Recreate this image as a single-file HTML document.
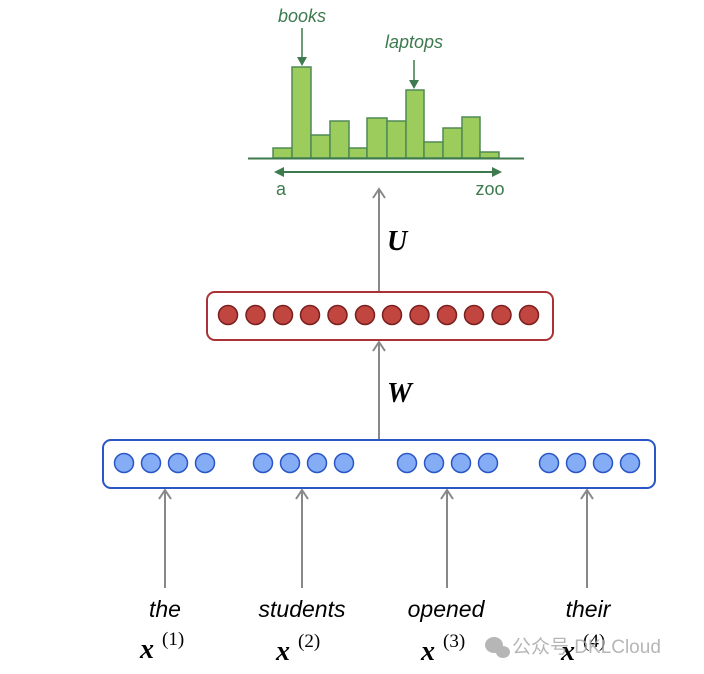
<!DOCTYPE html>
<html><head><meta charset="utf-8"><style>body{margin:0;background:#fff}svg{display:block}</style></head>
<body>
<svg width="704" height="674" viewBox="0 0 704 674" xmlns="http://www.w3.org/2000/svg">
<!-- histogram -->
<g fill="#9ccc5c" stroke="#4e8a55" stroke-width="1.5">
<rect x="273" y="148" width="19" height="10"/>
<rect x="292" y="67" width="19" height="91"/>
<rect x="311" y="135" width="19" height="23"/>
<rect x="330" y="121" width="19" height="37"/>
<rect x="349" y="148" width="18" height="10"/>
<rect x="367" y="118" width="20" height="40"/>
<rect x="387" y="121" width="19" height="37"/>
<rect x="406" y="90" width="18" height="68"/>
<rect x="424" y="142" width="19" height="16"/>
<rect x="443" y="128" width="19" height="30"/>
<rect x="462" y="117" width="18" height="41"/>
<rect x="480" y="152" width="19" height="6"/>
</g>
<line x1="248" y1="158.5" x2="524" y2="158.5" stroke="#3d7a4e" stroke-width="2"/>
<line x1="280" y1="172" x2="496" y2="172" stroke="#3d7a4e" stroke-width="2"/>
<path d="M274,172 L284,167 L284,177 Z M502,172 L492,167 L492,177 Z" fill="#3d7a4e"/>
<line x1="302" y1="28" x2="302" y2="58" stroke="#3d7a4e" stroke-width="1.5"/>
<path d="M297,57 L307,57 L302,66 Z" fill="#3d7a4e"/>
<line x1="414" y1="60" x2="414" y2="81" stroke="#3d7a4e" stroke-width="1.5"/>
<path d="M409,80 L419,80 L414,89 Z" fill="#3d7a4e"/>
<g font-family="Liberation Sans, sans-serif" fill="#3d7a4e" font-size="18">
<text x="302" y="22" text-anchor="middle" font-style="italic">books</text>
<text x="414" y="48" text-anchor="middle" font-style="italic">laptops</text>
<text x="281" y="195" text-anchor="middle">a</text>
<text x="490" y="195" text-anchor="middle">zoo</text>
</g>
<!-- arrows -->
<g stroke="#888" stroke-width="2" fill="none">
<line x1="379" y1="291" x2="379" y2="190"/><path d="M373,198 L379,189 L385,198"/>
<line x1="379" y1="440" x2="379" y2="343"/><path d="M373,351 L379,342 L385,351"/>
<line x1="165" y1="588" x2="165" y2="491"/><path d="M159,499 L165,490 L171,499"/>
<line x1="302" y1="588" x2="302" y2="491"/><path d="M296,499 L302,490 L308,499"/>
<line x1="447" y1="588" x2="447" y2="491"/><path d="M441,499 L447,490 L453,499"/>
<line x1="587" y1="588" x2="587" y2="491"/><path d="M581,499 L587,490 L593,499"/>
</g>
<g font-family="Liberation Serif, serif" font-weight="bold" font-style="italic" font-size="28" fill="#000">
<text x="387" y="250">U</text>
<text x="387" y="402">W</text>
</g>
<!-- red box -->
<rect x="207" y="292" width="346" height="48" rx="8" fill="#fff" stroke="#a83238" stroke-width="2"/>
<g fill="#c0463f" stroke="#7a1e1e" stroke-width="1.5">
<circle cx="228" cy="315" r="9.5"/><circle cx="255.5" cy="315" r="9.5"/><circle cx="283" cy="315" r="9.5"/><circle cx="310" cy="315" r="9.5"/><circle cx="337.5" cy="315" r="9.5"/><circle cx="365" cy="315" r="9.5"/><circle cx="392" cy="315" r="9.5"/><circle cx="419.5" cy="315" r="9.5"/><circle cx="447" cy="315" r="9.5"/><circle cx="474" cy="315" r="9.5"/><circle cx="501.5" cy="315" r="9.5"/><circle cx="529" cy="315" r="9.5"/>
</g>
<!-- blue box -->
<rect x="103" y="440" width="552" height="48" rx="8" fill="#fff" stroke="#2a56c6" stroke-width="2"/>
<g fill="#84adf5" stroke="#2a56c6" stroke-width="1.5">
<circle cx="124" cy="463" r="9.5"/><circle cx="151" cy="463" r="9.5"/><circle cx="178" cy="463" r="9.5"/><circle cx="205" cy="463" r="9.5"/>
<circle cx="263" cy="463" r="9.5"/><circle cx="290" cy="463" r="9.5"/><circle cx="317" cy="463" r="9.5"/><circle cx="344" cy="463" r="9.5"/>
<circle cx="407" cy="463" r="9.5"/><circle cx="434" cy="463" r="9.5"/><circle cx="461" cy="463" r="9.5"/><circle cx="488" cy="463" r="9.5"/>
<circle cx="549" cy="463" r="9.5"/><circle cx="576" cy="463" r="9.5"/><circle cx="603" cy="463" r="9.5"/><circle cx="630" cy="463" r="9.5"/>
</g>
<!-- words -->
<g font-family="Liberation Sans, sans-serif" font-style="italic" font-size="23" fill="#000" text-anchor="middle">
<text x="165" y="617">the</text>
<text x="302" y="617">students</text>
<text x="446" y="617">opened</text>
<text x="588" y="617">their</text>
</g>
<g font-family="Liberation Serif, serif" fill="#000">
<text x="140" y="658" font-size="28" font-weight="bold" font-style="italic">x</text><text x="162" y="645" font-size="19">(1)</text>
<text x="276" y="660" font-size="28" font-weight="bold" font-style="italic">x</text><text x="298" y="647" font-size="19">(2)</text>
<text x="421" y="660" font-size="28" font-weight="bold" font-style="italic">x</text><text x="443" y="647" font-size="19">(3)</text>
<text x="561" y="660" font-size="28" font-weight="bold" font-style="italic">x</text><text x="583" y="647" font-size="19">(4)</text>
</g>
<!-- watermark -->
<g fill="#aaa" opacity="0.85">
<ellipse cx="494" cy="645" rx="9" ry="8"/><ellipse cx="503" cy="652" rx="7" ry="6"/>
<text x="512" y="653" font-family="Liberation Sans, 'Noto Sans CJK SC', sans-serif" font-size="19">公众号 DKLCloud</text>
</g>
</svg>
</body></html>
